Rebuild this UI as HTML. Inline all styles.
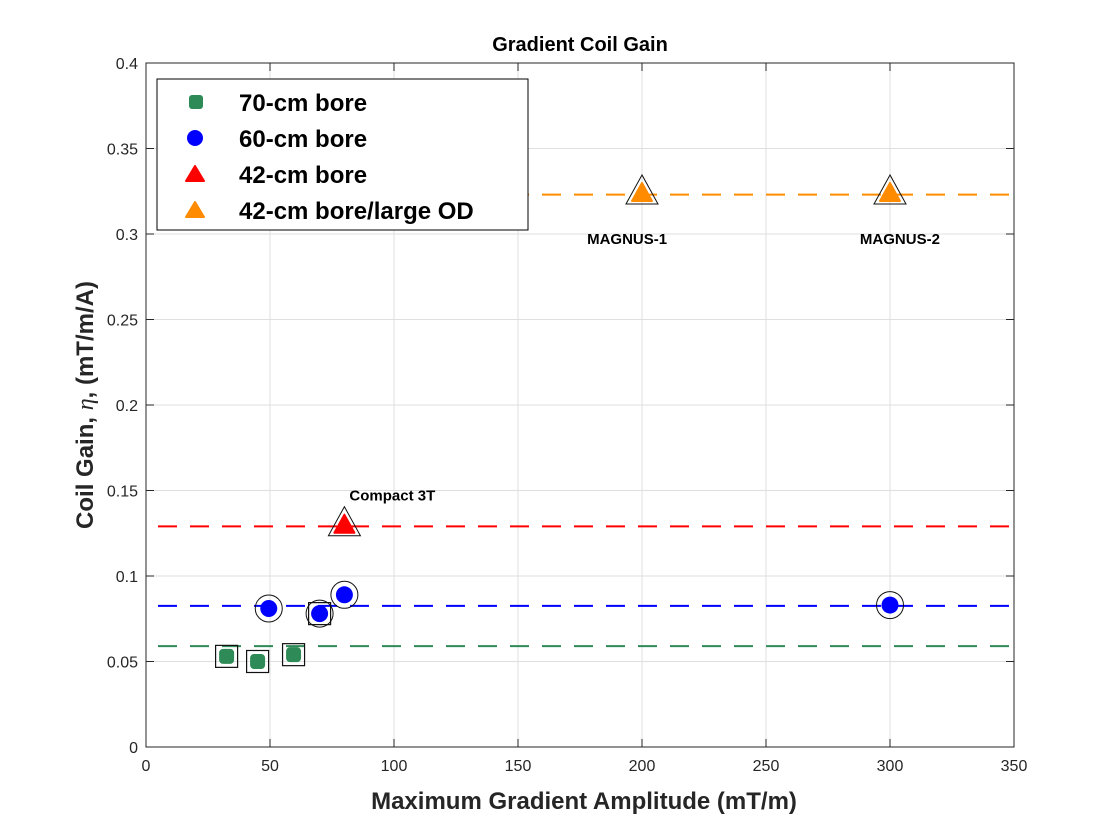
<!DOCTYPE html>
<html><head><meta charset="utf-8"><style>
body{margin:0;background:#fff;}
svg{display:block;font-family:"Liberation Sans",Arial,sans-serif;}
</style></head><body>
<svg id="c" width="1120" height="840" xmlns="http://www.w3.org/2000/svg"></svg>
<script>
const xTicks=[0,50,100,150,200,250,300,350];
const yTicks=[0,0.05,0.1,0.15,0.2,0.25,0.3,0.35,0.4];
const yTickLabels=["0","0.05","0.1","0.15","0.2","0.25","0.3","0.35","0.4"];
const greenX=[32.5,45,59.5];
const greenY=[0.053,0.050,0.054];
const blueX=[49.5,70,80,300];
const blueY=[0.081,0.078,0.089,0.083];
const redX=[80];
const redY=[0.130];
const orangeX=[200,300];
const orangeY=[0.324,0.324];
const refNames=["green","blue","red","orange"];
const refValues=[0.059,0.0825,0.129,0.323];
const refColors=["#2e8b57","#0000ff","#ff0000","#ff8c00"];
const labelTexts=["Compact 3T","MAGNUS-1","MAGNUS-2"];
const labelX=[80,194,304];
const labelY=[0.147,0.297,0.297];

const L=146,R=1014,T=63,B=747;
const sx=v=>L+(v/350)*(R-L);
const sy=v=>B-(v/0.4)*(B-T);
const svg=document.getElementById('c');
const NS="http://www.w3.org/2000/svg";
function mk(tag,attrs,name,parent){const e=document.createElementNS(NS,tag);for(const k in attrs)e.setAttribute(k,attrs[k]);


(parent||svg).appendChild(e);return e;}

mk('rect',{x:L,y:T,width:R-L,height:B-T,fill:'#fff'},'plot-area');
xTicks.forEach((v,i)=>{
 if(i>0&&i<xTicks.length-1)mk('line',{x1:sx(v),x2:sx(v),y1:T,y2:B,stroke:'#dfdfdf','stroke-width':1},'x-grid-line');
 mk('line',{x1:sx(v),x2:sx(v),y1:B,y2:B-8,stroke:'#262626'},'x-tick');
 mk('line',{x1:sx(v),x2:sx(v),y1:T,y2:T+8,stroke:'#262626'},'x-tick-top');
 const t=mk('text',{x:sx(v),y:B+24,'text-anchor':'middle','font-size':16,fill:'#262626'},'x-tick-label');t.textContent=v;
});
yTicks.forEach((v,i)=>{
 if(i>0&&i<yTicks.length-1)mk('line',{x1:L,x2:R,y1:sy(v),y2:sy(v),stroke:'#dfdfdf','stroke-width':1},'y-grid-line');
 mk('line',{x1:L,x2:L+8,y1:sy(v),y2:sy(v),stroke:'#262626'},'y-tick');
 mk('line',{x1:R,x2:R-8,y1:sy(v),y2:sy(v),stroke:'#262626'},'y-tick-right');
 const t=mk('text',{x:L-8,y:sy(v)+6,'text-anchor':'end','font-size':16,fill:'#262626'},'y-tick-label');t.textContent=yTickLabels[i];
});
refValues.forEach((v,i)=>{
 mk('line',{x1:L,x2:R,y1:sy(v),y2:sy(v),stroke:refColors[i],'stroke-width':2,'stroke-dasharray':'19,13','stroke-dashoffset':'-12'},refNames[i]+'-reference-line');
});
function circ(x,y,c){mk('circle',{cx:sx(x),cy:sy(y),r:13.5,fill:'none',stroke:'#111','stroke-width':1},'circle-outline');mk('circle',{cx:sx(x),cy:sy(y),r:8.5,fill:c},'blue-point');}
function sq(x,y){mk('rect',{x:sx(x)-11,y:sy(y)-11,width:22,height:22,fill:'none',stroke:'#111','stroke-width':1.2},'square-outline');}
greenX.forEach((x,i)=>{sq(x,greenY[i]);mk('rect',{x:sx(x)-7.5,y:sy(greenY[i])-7.5,width:15,height:15,rx:4,fill:'#2e8b57'},'green-point');});
blueX.forEach((x,i)=>{circ(x,blueY[i],'#0000ff');if(x===70)sq(x,blueY[i]);});
function tri(x,y,c,n){const X=sx(x),Y=sy(y);
 mk('polygon',{points:`${X},${Y-18} ${X-16},${Y+11} ${X+16},${Y+11}`,fill:'none',stroke:'#111','stroke-width':1},'triangle-outline');
 mk('polygon',{points:`${X},${Y-10} ${X-10},${Y+8} ${X+10},${Y+8}`,fill:c,stroke:c,'stroke-width':2,'stroke-linejoin':'round'},n);}
redX.forEach((x,i)=>tri(x,redY[i],'#ff0000','red-point'));
orangeX.forEach((x,i)=>tri(x,orangeY[i],'#ff8c00','orange-point'));
labelTexts.forEach((s,i)=>{const t=mk('text',{x:i===0?sx(labelX[i])+5:sx(labelX[i]),y:sy(labelY[i])+5,'text-anchor':i===0?'start':'middle','font-size':15,'font-weight':'bold',fill:'#000'},'annotation-label');t.textContent=s;});
mk('rect',{x:L,y:T,width:R-L,height:B-T,fill:'none',stroke:'#262626','stroke-width':1},'axes-box');

const lg=mk('g',{},'legend');
mk('rect',{x:157,y:79,width:371,height:151,fill:'#fff',stroke:'#000','stroke-width':1},'legend-box',lg);
const legLabels=["70-cm bore","60-cm bore","42-cm bore","42-cm bore/large OD"];
legLabels.forEach((s,i)=>{const y=102+i*36;
 if(i===0)mk('rect',{x:189,y:y-7,width:14,height:14,rx:3,fill:'#2e8b57'},'legend-marker',lg);
 else if(i===1)mk('circle',{cx:195,cy:y,r:8,fill:'#0000ff'},'legend-marker',lg);
 else{const c=i===2?'#ff0000':'#ff8c00';mk('polygon',{points:`195,${y-8} 186,${y+7} 204,${y+7}`,fill:c,stroke:c,'stroke-width':2,'stroke-linejoin':'round'},'legend-marker',lg);}
 const t=mk('text',{x:239,y:y+9,'font-size':24,'font-weight':'bold',fill:'#000'},'legend-entry',lg);t.textContent=s;});

const tt=mk('text',{x:580,y:51,'text-anchor':'middle','font-size':20,'font-weight':'bold',fill:'#000'},'chart-title');tt.textContent="Gradient Coil Gain";
const xt=mk('text',{x:584,y:809,'text-anchor':'middle','font-size':24,'font-weight':'bold',fill:'#262626'},'x-axis-title');xt.textContent="Maximum Gradient Amplitude (mT/m)";
const yt=mk('text',{x:0,y:0,transform:'translate(93,405) rotate(-90)','text-anchor':'middle','font-size':24,'font-weight':'bold',fill:'#262626'},'y-axis-title');
yt.innerHTML='Coil Gain, <tspan font-style="italic" font-weight="normal" font-family="Liberation Serif, serif">η</tspan>, (mT/m/A)';
</script>
</body></html>
